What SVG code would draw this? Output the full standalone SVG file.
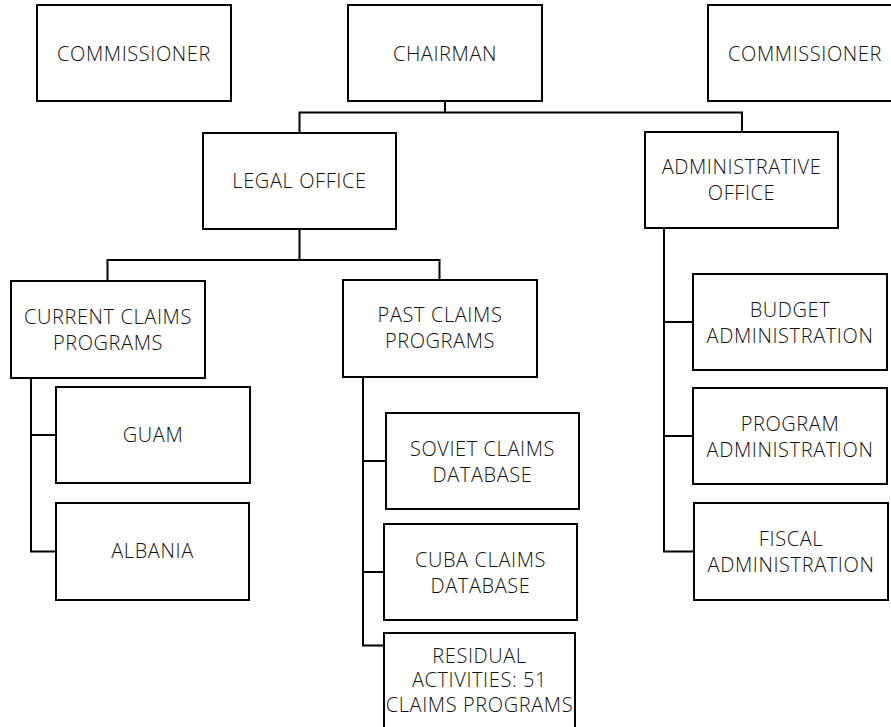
<svg xmlns="http://www.w3.org/2000/svg" width="891" height="727" viewBox="0 0 891 727">
<style>
.box{fill:#fff;stroke:#000;stroke-width:2}
.lbl{font-family:"Open Sans","Liberation Sans",sans-serif;font-weight:300;font-size:20px;letter-spacing:0.6px;fill:#111;text-anchor:middle}
.conn{fill:none;stroke:#000;stroke-width:2}
</style>
<rect width="891" height="727" fill="#fff"/>
<g id="connectors">
<path class="conn" d="M445 101V112.5M299.5 133V112.5H742V132"/>
<path class="conn" d="M299.5 229V260M107.5 281V260H439.5V280"/>
<path class="conn" d="M31 378V551.5H56M31 435H56"/>
<path class="conn" d="M363 377V645.5H384M363 461H386M363 572H384"/>
<path class="conn" d="M664 228V551.5H694M664 322H693M664 436H693"/>
</g>
<g id="commissioner-left"><rect class="box" x="37" y="5" width="194" height="96"/><text class="lbl" x="134" y="61">COMMISSIONER</text></g>
<g id="chairman"><rect class="box" x="348" y="5" width="194" height="96"/><text class="lbl" x="445" y="61">CHAIRMAN</text></g>
<g id="commissioner-right"><rect class="box" x="708" y="5" width="194" height="96"/><text class="lbl" x="805" y="61">COMMISSIONER</text></g>
<g id="legal-office"><rect class="box" x="203" y="133" width="193" height="96"/><text class="lbl" x="299.5" y="188">LEGAL OFFICE</text></g>
<g id="administrative-office"><rect class="box" x="645" y="132" width="193" height="96"/><text class="lbl" x="741.5" y="174">ADMINISTRATIVE</text><text class="lbl" x="741.5" y="200">OFFICE</text></g>
<g id="current-claims"><rect class="box" x="11" y="281" width="194" height="97"/><text class="lbl" x="108" y="324">CURRENT CLAIMS</text><text class="lbl" x="108" y="350">PROGRAMS</text></g>
<g id="past-claims"><rect class="box" x="343" y="280" width="194" height="97"/><text class="lbl" x="440" y="322">PAST CLAIMS</text><text class="lbl" x="440" y="348">PROGRAMS</text></g>
<g id="guam"><rect class="box" x="56" y="387" width="194" height="96"/><text class="lbl" x="153" y="442">GUAM</text></g>
<g id="albania"><rect class="box" x="56" y="503" width="193" height="97"/><text class="lbl" x="152.5" y="558">ALBANIA</text></g>
<g id="soviet"><rect class="box" x="386" y="413" width="193" height="96"/><text class="lbl" x="482.5" y="455.5">SOVIET CLAIMS</text><text class="lbl" x="482.5" y="481.5">DATABASE</text></g>
<g id="cuba"><rect class="box" x="384" y="524" width="193" height="96"/><text class="lbl" x="480.5" y="566.5">CUBA CLAIMS</text><text class="lbl" x="480.5" y="592.5">DATABASE</text></g>
<g id="residual"><rect class="box" x="384" y="633" width="191" height="100"/><text class="lbl" x="479.5" y="663">RESIDUAL</text><text class="lbl" x="479.5" y="687">ACTIVITIES: 51</text><text class="lbl" x="479.5" y="711.5">CLAIMS PROGRAMS</text></g>
<g id="budget"><rect class="box" x="693" y="274" width="194" height="96"/><text class="lbl" x="790" y="316.5">BUDGET</text><text class="lbl" x="790" y="342.5">ADMINISTRATION</text></g>
<g id="program"><rect class="box" x="693" y="388" width="194" height="96"/><text class="lbl" x="790" y="430.5">PROGRAM</text><text class="lbl" x="790" y="456.5">ADMINISTRATION</text></g>
<g id="fiscal"><rect class="box" x="694" y="503" width="194" height="97"/><text class="lbl" x="791" y="545.5">FISCAL</text><text class="lbl" x="791" y="571.5">ADMINISTRATION</text></g>
</svg>
